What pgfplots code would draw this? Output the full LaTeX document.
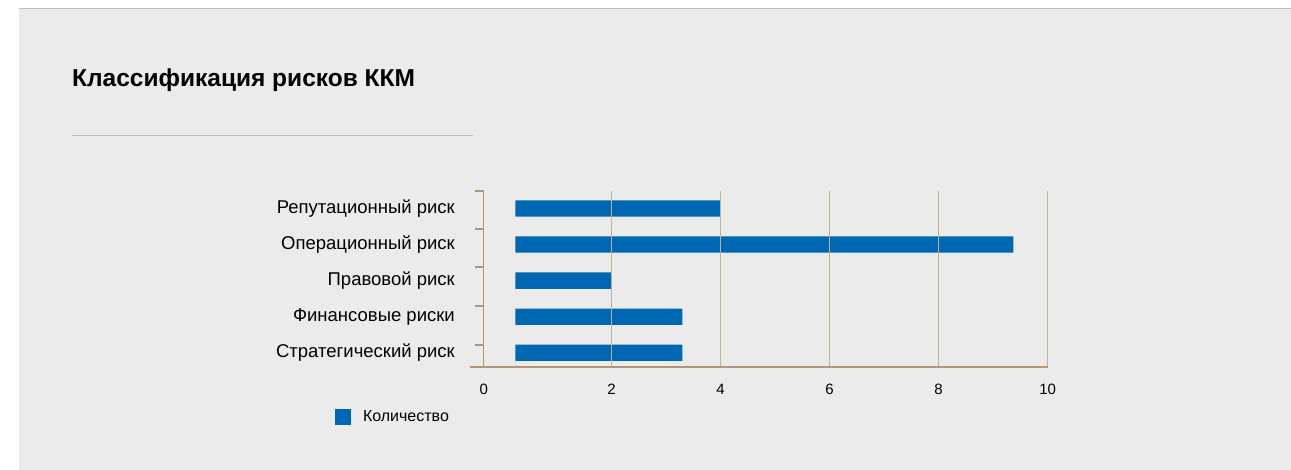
\documentclass[border=0pt]{standalone}
\usepackage{pgfplots}
\pgfplotsset{compat=1.18}
\usepackage{pgfplotstable}
\usepackage{fontspec}
\setmainfont{Liberation Sans}
\definecolor{bg}{RGB}{235,235,235}
\definecolor{tanline}{RGB}{204,188,172}
\definecolor{axisc}{RGB}{178,150,122}
\definecolor{gridc}{RGB}{196,174,150}
\definecolor{barblue}{RGB}{0,103,178}

% pos: 0 = bottom category
\pgfplotstableread{
pos start value
0 0.24 3.30
1 0.24 3.30
2 0.24 2.00
3 0.24 9.37
4 0.24 4.00
}\risks

\begin{document}
\begin{tikzpicture}[x=1pt,y=1pt]
\path[use as bounding box] (0,0) rectangle (1291,470);
\fill[white] (0,0) rectangle (1291,470);
\fill[bg] (19,0) rectangle (1291,462);
\draw[tanline, line width=1.5] (19,461.3) -- (1291,461.3);
\node[anchor=base west, font=\fontsize{24.5}{28}\selectfont\bfseries, inner sep=0] at (72,383) {Классификация рисков ККМ};
\draw[tanline, line width=1.3] (72,334.5) -- (473,334.5);

\begin{axis}[
  at={(483.7pt,103pt)}, anchor=south west,
  scale only axis, width=564pt, height=176pt,
  xbar stacked, bar width=16.3pt,
  xmin=-0.343, xmax=10, ymin=-0.394, ymax=4.485,
  axis on top,
  axis x line=bottom, axis y line=left,
  axis line style={-, axisc, line width=1.5pt},
  x axis line style={shorten <=-13.7pt},
  xmajorgrids, grid style={gridc, line width=1.2pt},
  xtick={2,4,6,8,10},
  extra x ticks={-0.343}, extra x tick labels={0},
  extra x tick style={grid=none},
  major tick length=0pt,
  xticklabel style={font=\fontsize{15}{18}\selectfont, inner sep=0pt, yshift=-16.5pt},
  /pgf/number format/assume math mode=true,
  ytick={0,1,2,3,4},
  yticklabels={Стратегический риск, Финансовые риски, Правовой риск, Операционный риск, Репутационный риск},
  yticklabel style={font=\fontsize{18.5}{21}\selectfont, inner sep=0pt, anchor=east, xshift=-28.7pt},
  extra y ticks={0.225,1.297,2.367,3.432,4.485},
  extra y tick labels={},
  extra y tick style={major tick length=8.7pt, tick align=outside, tick style={axisc, line width=1.8pt}},
  legend style={at={(-0.264,-0.284)}, anchor=west, draw=none, fill=none, inner sep=0pt,
    font=\fontsize{16}{19}\selectfont,
    /tikz/every odd column/.append style={column sep=10pt}},
  legend image code/.code={\fill[barblue] (0pt,-8pt) rectangle (16pt,8pt);},
]
\addplot[draw=none, fill=none, forget plot] table[x=start, y=pos]{\risks};
\addplot[fill=barblue, draw=none] table[x expr=\thisrow{value}-\thisrow{start}, y=pos]{\risks};
\addlegendentry{Количество}
\end{axis}
\end{tikzpicture}
\end{document}
